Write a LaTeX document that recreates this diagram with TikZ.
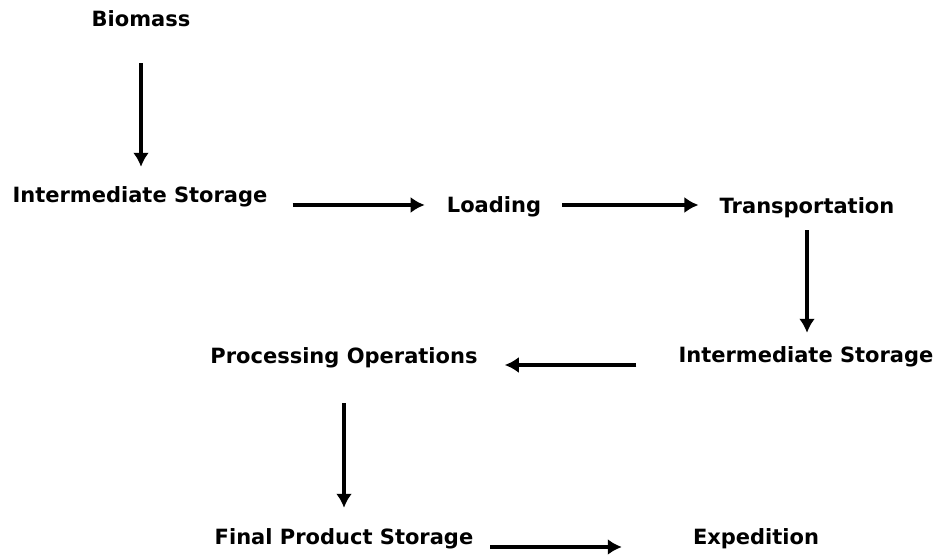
\documentclass[tikz,border=0pt]{standalone}
\usepackage{fontspec}
\setmainfont{DejaVu Sans}
\usepackage{tikz}
\usetikzlibrary{arrows.meta}
\tikzset{stage/.style={font=\bfseries\fontsize{21}{24}\selectfont,inner sep=0pt,anchor=base,text height=16pt,text depth=5pt}}
\tikzset{flow/.style={draw,line width=3.2pt,-{Latex[length=14pt,width=16pt]}}}

\begin{document}
\begin{tikzpicture}[x=1pt,y=1pt]
		\useasboundingbox (0,0) rectangle (940,559);
		\node[stage] (bio) at (141,532) {Biomass};
		\node[stage] (is1) at (140,356) {Intermediate Storage};
		\node[stage] (load) at (494,346) {Loading};
		\node[stage] (trans) at (807,345) {Transportation};
		\node[stage] (is2) at (806,196) {Intermediate Storage};
		\node[stage] (proc) at (344,195) {Processing Operations};
		\node[stage] (fps) at (344,14) {Final Product Storage};
		\node[stage] (exp) at (756,14) {Expedition};
		\path[flow] ([yshift=-31pt]bio.south) -- ([xshift=1pt,yshift=20pt]is1.north);
		\path[flow] ([xshift=25pt,yshift=-7.5pt]is1.east) -- ([xshift=-22pt,yshift=2.5pt]load.west);
		\path[flow] ([xshift=21pt,yshift=2.5pt]load.east) -- ([xshift=-21pt,yshift=3.5pt]trans.west);
		\path[flow] ([yshift=-11pt]trans.south) -- ([xshift=1pt,yshift=14pt]is2.north);
		\path[flow] ([xshift=-42pt,yshift=-7.5pt]is2.west) -- ([xshift=27pt,yshift=-6.5pt]proc.east);
		\path[flow] ([yshift=-34pt]proc.south) -- ([yshift=21pt]fps.north);
		\path[flow] ([xshift=17pt,yshift=-7.5pt]fps.east) -- ([xshift=-71pt,yshift=-7.5pt]exp.west);
	\end{tikzpicture}
\end{document}
